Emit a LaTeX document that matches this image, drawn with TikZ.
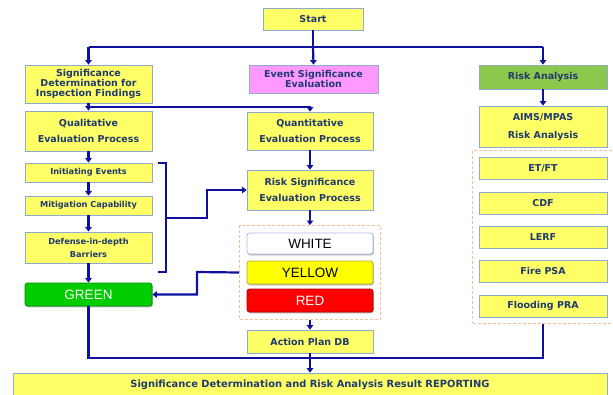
\documentclass[tikz,border=0pt]{standalone}
\usepackage{fontspec}
\setmainfont{DejaVu Sans}
\newfontfamily\arialf{Liberation Sans}
\usetikzlibrary{arrows.meta,shadows,fit,calc}
\definecolor{boxfill}{HTML}{FFFF66}
\definecolor{boxline}{HTML}{8FAACC}
\definecolor{boxtext}{HTML}{1F3A70}
\definecolor{conn}{HTML}{1010A0}
\definecolor{pinkf}{HTML}{FF99FF}
\definecolor{raf}{HTML}{8CC84B}
\definecolor{greenf}{HTML}{00CC00}
\definecolor{dashc}{HTML}{F4BC9C}
\definecolor{whiteline}{HTML}{B4B4E6}
\definecolor{yellowf}{HTML}{FFFF00}
\definecolor{yellowline}{HTML}{B0B040}
\begin{document}
\begin{tikzpicture}[x=1pt,y=-1pt,
  wh/.style 2 args={minimum width=#1, minimum height=#2},
  box/.style={draw=boxline, fill=boxfill, line width=0.8pt, text=boxtext,
    font=\fontsize{9.5}{10}\selectfont\bfseries, align=center, inner sep=0pt,
    drop shadow={shadow xshift=0.8pt, shadow yshift=-1.3pt, fill=boxline!70!black, opacity=1}},
  smallbox/.style={box, font=\fontsize{8.2}{13}\selectfont\bfseries},
  colbox/.style={draw, line width=0.8pt, rounded corners=2.5pt, inner sep=0pt,
    font=\arialf\fontsize{13.5}{14}\selectfont,
    drop shadow={shadow xshift=0.8pt, shadow yshift=-1.3pt, fill=gray!60, opacity=1}},
  dashbox/.style={draw=dashc, line width=1.1pt, dash pattern=on 3pt off 2pt},
  ln/.style={draw=conn, line width=2.2pt},
  arr/.style={ln, -{Triangle[length=4.5pt,width=6.5pt]}}
]
\useasboundingbox (0,0) rectangle (613,394);

% top
\node[box, wh={100pt}{22pt}] (start) at (313,19) {Start};
\node[box, wh={127pt}{38pt}] (sdif) at (88.5,84) {Significance\\Determination for\\Inspection Findings};
\node[box, wh={129pt}{28pt}, fill=pinkf] (ese) at (313.5,79) {Event Significance\\Evaluation};
\node[box, wh={128pt}{24pt}, fill=raf] (ra) at (543,77) {Risk Analysis};

% right column
\node[box, wh={128pt}{41pt}, font=\fontsize{9.5}{18}\selectfont\bfseries] (aims) at (543,126.5) {AIMS/MPAS\\Risk Analysis};
\node[box, wh={128pt}{22pt}] (etft) at (543,168) {ET/FT};
\node[box, wh={128pt}{22pt}] (cdf) at (543,203) {CDF};
\node[box, wh={128pt}{22pt}] (lerf) at (543,237) {LERF};
\node[box, wh={128pt}{22pt}] (fire) at (543,271) {Fire PSA};
\node[box, wh={128pt}{22pt}] (flood) at (543,306) {Flooding PRA};
\node[dashbox, fit=(etft)(flood), inner xsep=6pt, inner ysep=6pt] (grp2) {};

% left column
\node[box, wh={127pt}{40pt}, font=\fontsize{9.5}{16}\selectfont\bfseries] (qual) at (88.5,131) {Qualitative\\Evaluation Process};
\node[smallbox, wh={127pt}{19pt}] (ie) at (88.5,172.5) {Initiating Events};
\node[smallbox, wh={127pt}{19pt}] (mc) at (88.5,205.5) {Mitigation Capability};
\node[smallbox, wh={127pt}{31pt}] (dd) at (88.5,247.5) {Defense-in-depth\\Barriers};
\node[colbox, wh={127pt}{23pt}, fill=greenf, draw=greenf!70!black, text=white] (green) at (88.5,294.5) {GREEN};

% middle column
\node[box, wh={126pt}{38pt}, font=\fontsize{9.5}{16}\selectfont\bfseries] (quant) at (310,131) {Quantitative\\Evaluation Process};
\node[box, wh={126pt}{40pt}, font=\fontsize{9.5}{16}\selectfont\bfseries] (rse) at (310,190) {Risk Significance\\Evaluation Process};
\node[colbox, wh={126pt}{21pt}, fill=white, draw=whiteline, text=black] (white) at (310,243.5) {WHITE};
\node[colbox, wh={126pt}{23pt}, fill=yellowf, draw=yellowline, text=black] (yellow) at (310,272.5) {YELLOW};
\node[colbox, wh={126pt}{23pt}, fill=red, draw=red!70!black, text=white] (red) at (310,300.5) {RED};
\node[dashbox, fit=(white)(yellow)(red), inner xsep=7pt, inner ysep=7pt] (grp) {};
\node[box, wh={126pt}{23pt}] (ap) at (310,341.5) {Action Plan DB};

% bottom
\node[box, wh={594pt}{24pt}, font=\fontsize{9.9}{10}\selectfont\bfseries] (rep) at (310,385) {Significance Determination and Risk Analysis Result REPORTING};

% connectors: top branch
\coordinate (jl) at (88.5,47);
\coordinate (jm) at (313,47);
\coordinate (jr) at (543,47);
\draw[ln] (start.south) -- (jm);
\draw[ln] (jl) -- (jr);
\draw[arr] (jl) -- (sdif.north);
\draw[arr] (jm) -- (ese.north);
\draw[arr] (jr) -- (ra.north);
\draw[arr] (ra.south) -- (aims.north);

% SDIF to qualitative / quantitative
\coordinate (q1) at ($(sdif.south)!0.5!(qual.north)$);
\draw[arr] (sdif.south) -- (qual.north);
\draw[arr] (q1) -| (quant.north);

% left chain
\draw[arr] (qual.south) -- (ie.north);
\draw[arr] (ie.south) -- (mc.north);
\draw[arr] (mc.south) -- (dd.north);
\draw[arr] (dd.south) -- (green.north);

% bracket
\coordinate (bt1) at (158,163);
\coordinate (bt2) at (166,163);
\coordinate (bb2) at (166,272);
\coordinate (bb1) at (158,272);
\coordinate (bm) at (166,218);
\coordinate (bk1) at (207,218);
\coordinate (bk2) at (207,190);
\draw[ln, line width=2pt] (bt1) -- (bt2) -- (bb2) -- (bb1);
\draw[arr] (bm) -- (bk1) -- (bk2) -- (rse.west);

% middle chain
\draw[arr] (quant.south) -- (rse.north);
\draw[arr] (rse.south) -- (grp.north);
\coordinate (gk1) at (197,272);
\coordinate (gk2) at (197,294.5);
\draw[arr] (grp.west) -- (gk1) -- (gk2) -- (green.east);
\draw[arr] (grp.south) -- (ap.north);

% to report
\coordinate (bj) at (310,358);
\draw[ln] (ap.south) -- (bj);
\draw[ln] (green.south) |- (bj);
\draw[ln] (grp2.south) |- (bj);
\draw[arr] (bj) -- (rep.north);
\end{tikzpicture}
\end{document}
